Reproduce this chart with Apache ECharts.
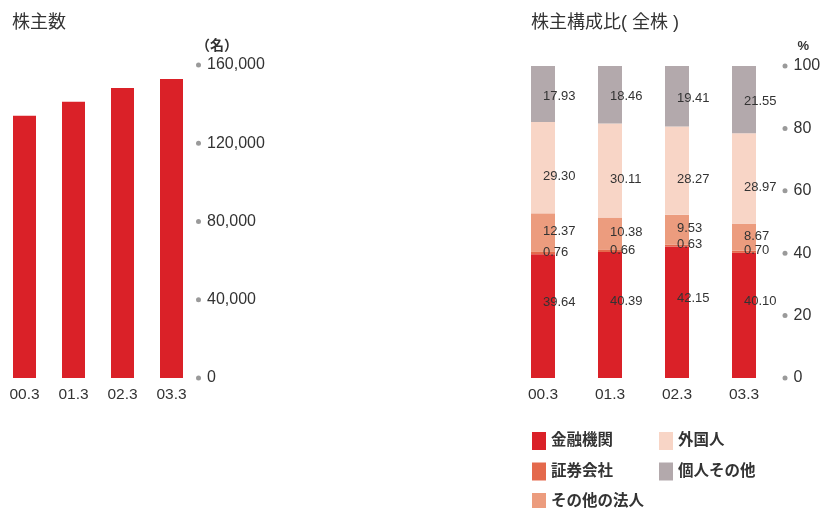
<!DOCTYPE html>
<html>
<head>
<meta charset="utf-8">
<script src="https://cdn.jsdelivr.net/npm/echarts@6/dist/echarts.min.js"></script>
<style>
html,body{margin:0;padding:0;background:#fff;}
#main{width:820px;height:508px;}
</style>
</head>
<body>
<div id="main"></div>
<script>
// ---- data ----
var categories = ['00.3', '01.3', '02.3', '03.3'];
var shareholders = [134000, 141200, 148200, 152800];
var shareholderTicks = [0, 40000, 80000, 120000, 160000];

var seriesNames = ['金融機関', '証券会社', 'その他の法人', '外国人', '個人その他'];
var financial   = [39.64, 40.39, 42.15, 40.10];
var securities  = [0.76, 0.66, 0.63, 0.70];
var otherCorp   = [12.37, 10.38, 9.53, 8.67];
var foreign     = [29.30, 30.11, 28.27, 28.97];
var individuals = [17.93, 18.46, 19.41, 21.55];
var percentTicks = [0, 20, 40, 60, 80, 100];

// ---- styles ----
var FONT = "'Liberation Sans', 'Noto Sans CJK JP', sans-serif";
var TXT = '#333333';
var colors = ['#DA2128', '#E4694C', '#EC9C7E', '#F8D5C6', '#B3A9AC'];
var labelOffsets = [[0, -14], [0, -1], [0, -1], [0, 9], [0, 2]];

function dotLabel(fmt, margin) {
  return {
    margin: margin,
    formatter: function (v) { return '{d| }{v|' + fmt(v) + '}'; },
    rich: {
      d: { width: 5, height: 5, borderRadius: 3, backgroundColor: '#9a9a9a' },
      v: { fontSize: 16, color: TXT, fontFamily: FONT, padding: [0, 0, 0, 6] }
    }
  };
}

var stackData = [financial, securities, otherCorp, foreign, individuals];
var stackSeries = stackData.map(function (arr, i) {
  return {
    name: seriesNames[i],
    type: 'bar',
    stack: 'all',
    xAxisIndex: 1,
    yAxisIndex: 1,
    barWidth: 24,
    itemStyle: { color: colors[i] },
    label: {
      show: true,
      position: ['50%', '50%'],
      align: 'left',
      verticalAlign: 'middle',
      offset: labelOffsets[i],
      fontSize: 13,
      color: TXT,
      fontFamily: FONT,
      formatter: function (p) { return p.value.toFixed(2); }
    },
    data: arr
  };
});

var legendCommon = {
  orient: 'vertical',
  icon: 'rect',
  itemWidth: 14,
  itemHeight: 18,
  itemGap: 12.5,
  padding: 0,
  top: 432,
  height: 100,
  textStyle: { fontSize: 15.5, fontWeight: 'bold', color: TXT, fontFamily: FONT }
};

var titleStyle = { fontSize: 18, fontWeight: 'normal', color: TXT, fontFamily: FONT };

var option = {
  animation: false,
  textStyle: { fontFamily: FONT },
  title: [
    { text: '株主数', left: 12, top: 14, padding: 0, textStyle: titleStyle },
    { text: '株主構成比( 全株 )', left: 531, top: 14, padding: 0, textStyle: titleStyle }
  ],
  legend: [
    Object.assign({ left: 532, data: [seriesNames[0], seriesNames[1], seriesNames[2]] }, legendCommon),
    Object.assign({ left: 659, data: [seriesNames[3], seriesNames[4]] }, legendCommon)
  ],
  grid: [
    { left: 0, width: 196, top: 65, bottom: 130, outerBoundsMode: 'none', containLabel: false },
    { left: 509.5, width: 268, top: 66, bottom: 130, outerBoundsMode: 'none', containLabel: false }
  ],
  xAxis: [
    { type: 'category', gridIndex: 0, data: categories,
      axisLine: { show: false }, axisTick: { show: false },
      axisLabel: { margin: 9, fontSize: 15.5, color: TXT, fontFamily: FONT } },
    { type: 'category', gridIndex: 1, data: categories,
      axisLine: { show: false }, axisTick: { show: false },
      axisLabel: { margin: 9, fontSize: 15.5, color: TXT, fontFamily: FONT } }
  ],
  yAxis: [
    { type: 'value', gridIndex: 0, position: 'right',
      min: shareholderTicks[0], max: shareholderTicks[shareholderTicks.length - 1], interval: 40000,
      name: '（名）', nameLocation: 'end', nameGap: 19,
      nameTextStyle: { align: 'left', verticalAlign: 'middle', fontSize: 14, fontWeight: 'bold', color: TXT, fontFamily: FONT, padding: [0, 0, 0, 0] },
      axisLine: { show: false }, axisTick: { show: false }, splitLine: { show: false },
      axisLabel: dotLabel(function (v) { return v.toLocaleString('en-US'); }, 0) },
    { type: 'value', gridIndex: 1, position: 'right',
      min: percentTicks[0], max: percentTicks[percentTicks.length - 1], interval: 20,
      name: '%', nameLocation: 'end', nameGap: 20,
      nameTextStyle: { align: 'left', verticalAlign: 'middle', fontSize: 13, fontWeight: 'bold', color: TXT, fontFamily: FONT, padding: [0, 0, 0, 20] },
      axisLine: { show: false }, axisTick: { show: false }, splitLine: { show: false },
      axisLabel: dotLabel(function (v) { return String(v); }, 5) }
  ],
  series: [
    { name: '株主数', type: 'bar', xAxisIndex: 0, yAxisIndex: 0, barWidth: 23,
      itemStyle: { color: '#DA2128' }, data: shareholders }
  ].concat(stackSeries)
};

var chart = echarts.init(document.getElementById('main'), null, { renderer: 'canvas' });
chart.setOption(option);
</script>
</body>
</html>
